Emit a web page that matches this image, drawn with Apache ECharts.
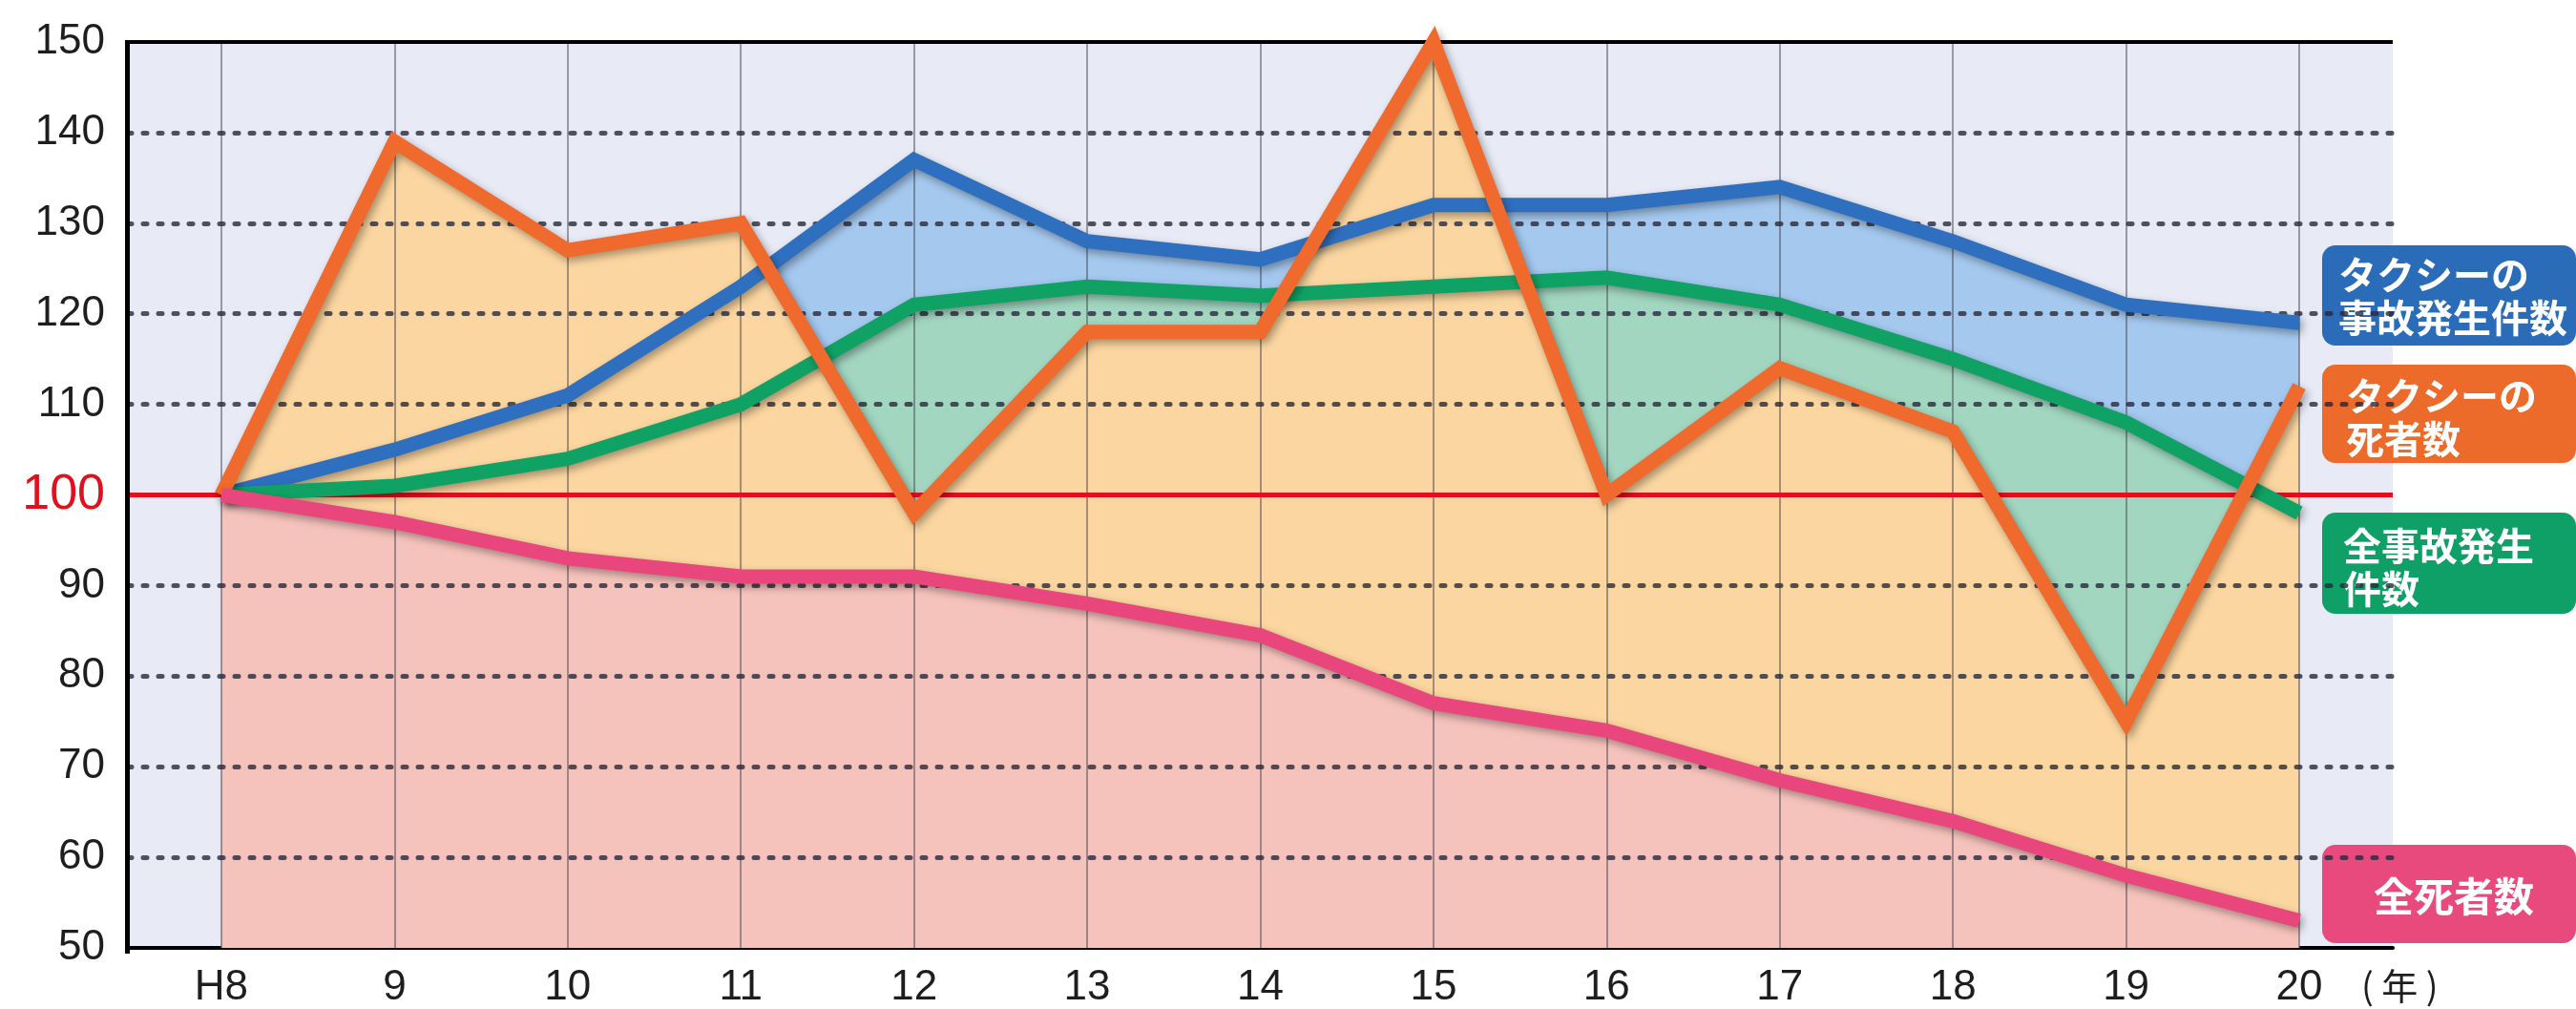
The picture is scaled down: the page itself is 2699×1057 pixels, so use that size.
<!DOCTYPE html>
<html>
<head>
<meta charset="utf-8">
<script src="https://cdn.jsdelivr.net/npm/echarts@6/dist/echarts.min.js"></script>
<style>
  html, body { margin: 0; padding: 0; background: #fff; }
  #Chart1 { width: 2699px; height: 1057px; }
</style>
</head>
<body>
<div id="Chart1"></div>
<script>
const years = ["H8", "9", "10", "11", "12", "13", "14", "15", "16", "17", "18", "19", "20"];
const taxiAccidents = [100, 105, 111, 123, 137, 128, 126, 132, 132, 134, 128, 121, 119];
const taxiDeaths = [100, 139, 127, 130, 98, 118, 118, 150, 100, 114, 107, 75, 112];
const allAccidents = [100, 101, 104, 110, 121, 123, 122, 123, 124, 121, 115, 108, 98];
const allDeaths = [100, 97, 93, 91, 91, 88, 84.5, 77, 74, 68.5, 64, 58, 53];
const gridValues = [60, 70, 80, 90, 110, 120, 130, 140];

const xMin = 0.46;
const xMax = 13.54;
// x positions are 1..13 so that 0 lies outside the x range
const pts = (arr) => arr.map((v, i) => [i + 1, v]);
const cjk = '"Noto Sans CJK JP", sans-serif';

const myChart = echarts.init(document.getElementById("Chart1"));

function areaSeries(name, data, color) {
  return {
    name: name,
    type: "line",
    data: pts(data),
    z: 2,
    symbol: "none",
    silent: true,
    lineStyle: { width: 0 },
    areaStyle: { color: color, opacity: 1, origin: "start" },
  };
}

function lineSeries(name, data, color) {
  return {
    name: name,
    type: "line",
    data: pts(data),
    z: 10,
    symbol: "none",
    clip: false,
    silent: true,
    lineStyle: {
      color: color,
      width: 15,
      join: "miter",
      miterLimit: 4,
      shadowColor: "rgba(0,0,0,0.35)",
      shadowBlur: 8,
      shadowOffsetX: 3,
      shadowOffsetY: 4,
    },
  };
}

// marker lines drawn over the fills: verticals, dotted grid, top border, red 100 line
const markData = [];
years.forEach((y, i) => {
  markData.push([
    { coord: [i + 1, 50], lineStyle: { color: "rgba(70,70,80,0.5)", width: 2, type: "solid" } },
    { coord: [i + 1, 150] },
  ]);
});
gridValues.forEach((v) => {
  markData.push({ yAxis: v, lineStyle: { color: "rgba(40,40,60,0.8)", width: 5, type: [4, 12], cap: "round" } });
});
markData.push({ yAxis: 150, lineStyle: { color: "#000", width: 4, type: "solid" } });
markData.push({ yAxis: 100, lineStyle: { color: "#e0101c", width: 5, type: "solid" } });

const option = {
  animation: false,
  grid: {
    left: 134,
    right: 192,
    top: 44,
    bottom: 60,
    show: true,
    backgroundColor: "#e8ebf6",
    borderWidth: 0,
  },
  xAxis: {
    type: "value",
    min: xMin,
    max: xMax,
    axisLine: { show: true, onZero: false, lineStyle: { color: "#000", width: 4 } },
    axisTick: { show: false },
    splitLine: { show: false },
    axisLabel: {
      customValues: years.map((y, i) => i + 1),
      formatter: (v) => years[Math.round(v) - 1],
      fontSize: 44,
      color: "#1e1e1e",
      fontFamily: "Liberation Sans",
      margin: 20,
    },
  },
  yAxis: {
    type: "value",
    min: 50,
    max: 150,
    interval: 10,
    axisLine: { show: false },
    axisTick: { show: false },
    splitLine: { show: false },
    axisLabel: {
      margin: 24,
      formatter: (v) => (v === 100 ? "{red|100}" : "{n|" + v + "}"),
      rich: {
        n: { fontSize: 44, color: "#1e1e1e", fontFamily: "Liberation Sans" },
        red: { fontSize: 52, color: "#e0101c", fontFamily: "Liberation Sans" },
      },
    },
  },
  series: [
    areaSeries("taxiAccidentsArea", taxiAccidents, "#a4c8ee"),
    areaSeries("allAccidentsArea", allAccidents, "#a2d6c1"),
    areaSeries("taxiDeathsArea", taxiDeaths, "#fbd6a0"),
    areaSeries("allDeathsArea", allDeaths, "#f6c3bc"),
    {
      name: "grid",
      type: "line",
      data: [],
      silent: true,
      markLine: {
        silent: true,
        symbol: "none",
        label: { show: false },
        emphasis: { disabled: true },
        data: markData,
      },
    },
    lineSeries("タクシーの事故発生件数", taxiAccidents, "#2f6fc0"),
    lineSeries("全事故発生件数", allAccidents, "#10a264"),
    lineSeries("タクシーの死者数", taxiDeaths, "#ef6a2c"),
    lineSeries("全死者数", allDeaths, "#e8467c"),
  ],
  graphic: [
    // left frame edge of the plot box
    { type: "rect", z: 50, shape: { x: 131, y: 42, width: 5, height: 957 }, style: { fill: "#000" } },
    { type: "rect", shape: { x: 2433, y: 257, width: 266, height: 105, r: 14 }, style: { fill: "#2b6cb9" } },
    { type: "text", x: 2450, y: 265, style: { text: "タクシーの\n事故発生件数", fill: "#fff", fontSize: 40, fontWeight: "bold", fontFamily: cjk, lineHeight: 45, verticalAlign: "top" } },
    { type: "rect", shape: { x: 2433, y: 382, width: 266, height: 103, r: 14 }, style: { fill: "#ec6a2a" } },
    { type: "text", x: 2458, y: 392, style: { text: "タクシーの\n死者数", fill: "#fff", fontSize: 40, fontWeight: "bold", fontFamily: cjk, lineHeight: 45, verticalAlign: "top" } },
    { type: "rect", shape: { x: 2433, y: 537, width: 266, height: 106, r: 14 }, style: { fill: "#0fa068" } },
    { type: "text", x: 2455, y: 549, style: { text: "全事故発生\n件数", fill: "#fff", fontSize: 40, fontWeight: "bold", fontFamily: cjk, lineHeight: 45, verticalAlign: "top" } },
    { type: "rect", shape: { x: 2433, y: 885, width: 266, height: 103, r: 14 }, style: { fill: "#e84a7e" } },
    { type: "text", x: 2571, y: 939, style: { text: "全死者数", fill: "#fff", fontSize: 42, fontWeight: "bold", fontFamily: cjk, align: "center", verticalAlign: "middle" } },
    { type: "text", x: 2474, y: 1014, style: { text: "( 年 )", fill: "#1e1e1e", fontSize: 38, fontFamily: cjk, verticalAlign: "top" } },
  ],
};

myChart.setOption(option);
</script>
</body>
</html>
